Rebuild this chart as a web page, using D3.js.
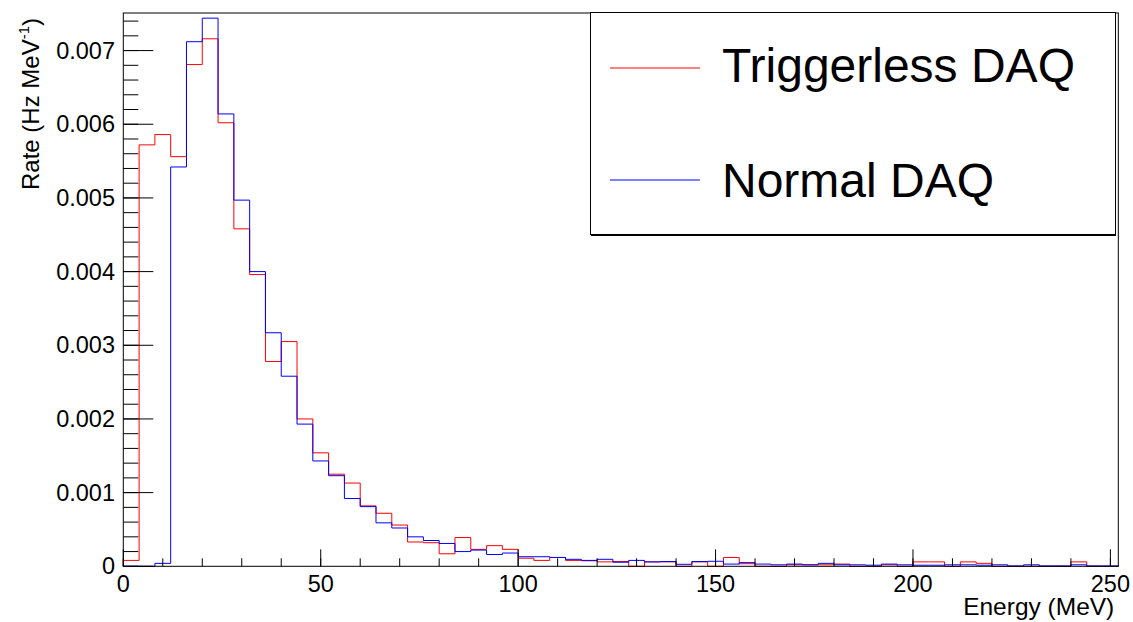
<!DOCTYPE html>
<html>
<head>
<meta charset="utf-8">
<script src="https://cdn.jsdelivr.net/npm/d3@7"></script>
<style>
  body { margin: 0; background: #fff; }
  svg { font-family: "Liberation Sans", Arial, sans-serif; }
</style>
</head>
<body>
<div id="chart"></div>
<script>
// histogram: 63 bins of 4 MeV, 0 - 252 MeV
var binWidth = 4;
var binLow = d3.range(0, 252, binWidth);

var triggerless = [
  0.00008, 0.00572, 0.00586, 0.00556, 0.00681, 0.00716, 0.00602, 0.00458, 0.00396, 0.00278,
  0.00305, 0.00200, 0.00154, 0.00125, 0.00113, 0.00082, 0.00072, 0.00056, 0.00033, 0.00032,
  0.00017, 0.00039, 0.00023, 0.00028, 0.00023, 0.00011, 0.00008, 0.00012, 0.00008, 0.000075,
  0.00006, 0.000065, 0, 0.00006, 0.00006, 0, 0.00006, 0, 0.00012, 0.000035,
  0, 0, 0.00002, 0.00002, 0.00002, 0.00003, 0, 0, 0.00002, 0,
  0.00006, 0.00006, 0, 0.00006, 0.00004, 0, 0, 0, 0, 0,
  0.00006, 0, 0
];
var normal = [
  0, 0, 0.00004, 0.00542, 0.00712, 0.00744, 0.00614, 0.00497, 0.00400, 0.00317,
  0.00258, 0.00193, 0.00143, 0.00123, 0.00092, 0.00081, 0.00059, 0.00052, 0.00040, 0.00035,
  0.00031, 0.00020, 0.00022, 0.00016, 0.00018, 0.00013, 0.00013, 0.00012, 0.000095, 0.00008,
  0.000095, 0.000055, 0.00008, 0.00006, 0.000065, 0.000027, 0.000065, 0.000068, 0.00003, 0.00005,
  0.00003, 0.00002, 0.00003, 0.00002, 0.00004, 0.00002, 0.00002, 0.000015, 0.00003, 0.00002,
  0.000015, 0.000015, 0.00002, 0.00002, 0.000015, 0.00002, 0.000005, 0.00002, 0.000005, 0.000005,
  0.00002, 0.000005, 0.000005
];

var xTicks = [0, 50, 100, 150, 200, 250];
var yTicks = [0, 0.001, 0.002, 0.003, 0.004, 0.005, 0.006, 0.007];
var seriesNames = ["Triggerless DAQ", "Normal DAQ"];
var seriesColors = ["#ff0000", "#0000ff"];

var W = 1133, H = 622;
var m = {left: 123.3, right: 1118.3, top: 13, bottom: 566.3};

var svg = d3.select("#chart").append("svg")
    .attr("width", W)
    .attr("height", H);

var x = d3.scaleLinear().domain([0, 252]).range([m.left, m.right]);
var y = d3.scaleLinear().domain([0, 0.00751]).range([m.bottom, m.top]);

// step outline of a histogram
function histPath(vals) {
    var pts = [[x(0), y(0)]];
    vals.forEach(function(v, i) {
        pts.push([x(binLow[i]), y(v)]);
        pts.push([x(binLow[i] + binWidth), y(v)]);
    });
    pts.push([x(252), y(0)]);
    return d3.line()(pts);
}

[triggerless, normal].forEach(function(vals, i) {
    svg.append("path")
        .attr("d", histPath(vals))
        .attr("fill", "none")
        .attr("stroke", seriesColors[i])
        .attr("stroke-width", 1);
});

// frame
svg.append("rect")
    .attr("x", m.left).attr("y", m.top)
    .attr("width", m.right - m.left).attr("height", m.bottom - m.top)
    .attr("fill", "none").attr("stroke", "#000").attr("stroke-width", 1);

// y axis ticks
var yMinor = d3.range(0, 0.00751, 0.0002);
svg.selectAll(".ymin").data(yMinor).enter().append("line")
    .attr("x1", m.left).attr("x2", m.left + 15)
    .attr("y1", function(d) { return y(d); })
    .attr("y2", function(d) { return y(d); })
    .attr("stroke", "#000");
svg.selectAll(".ymaj").data(yTicks).enter().append("line")
    .attr("x1", m.left).attr("x2", m.left + 30)
    .attr("y1", function(d) { return y(d); })
    .attr("y2", function(d) { return y(d); })
    .attr("stroke", "#000");
svg.selectAll(".ylab").data(yTicks).enter().append("text")
    .attr("x", 115)
    .attr("y", function(d) { return y(d) + 8; })
    .attr("text-anchor", "end")
    .attr("font-size", "23.5px")
    .text(function(d) { return d === 0 ? "0" : d3.format(".3f")(d); });

// x axis ticks
var xMinor = d3.range(0, 251, 10);
svg.selectAll(".xmin").data(xMinor).enter().append("line")
    .attr("x1", function(d) { return x(d); })
    .attr("x2", function(d) { return x(d); })
    .attr("y1", m.bottom).attr("y2", m.bottom - 8)
    .attr("stroke", "#000");
svg.selectAll(".xmaj").data(xTicks).enter().append("line")
    .attr("x1", function(d) { return x(d); })
    .attr("x2", function(d) { return x(d); })
    .attr("y1", m.bottom).attr("y2", m.bottom - 17)
    .attr("stroke", "#000");
svg.selectAll(".xlab").data(xTicks).enter().append("text")
    .attr("x", function(d) { return x(d); })
    .attr("y", 592)
    .attr("text-anchor", "middle")
    .attr("font-size", "23.5px")
    .text(function(d) { return d; });

// axis titles
svg.append("text")
    .attr("x", m.right - 4).attr("y", 615)
    .attr("text-anchor", "end")
    .attr("font-size", "24.5px")
    .text("Energy (MeV)");

var yt = svg.append("text")
    .attr("transform", "translate(39,104) rotate(-90)")
    .attr("text-anchor", "middle")
    .attr("font-size", "24px");
yt.append("tspan").text("Rate (Hz MeV");
yt.append("tspan").attr("font-size", "15px").attr("dy", -10).text("-1");
yt.append("tspan").attr("dy", 10).text(")");

// legend
var lg = svg.append("g");
lg.append("rect")
    .attr("x", 590.5).attr("y", 12.5)
    .attr("width", 525).attr("height", 222)
    .attr("fill", "#fff").attr("stroke", "#000").attr("stroke-width", 1);
lg.append("line")
    .attr("x1", 591).attr("x2", 1116)
    .attr("y1", 235.5).attr("y2", 235.5)
    .attr("stroke", "#000");
seriesNames.forEach(function(name, i) {
    var cy = [68, 180][i];
    lg.append("line")
        .attr("x1", 610).attr("x2", 700)
        .attr("y1", cy).attr("y2", cy)
        .attr("stroke", seriesColors[i]);
    lg.append("text")
        .attr("x", 722).attr("y", [82, 197][i])
        .attr("font-size", "48px")
        .text(name);
});
</script>
</body>
</html>
